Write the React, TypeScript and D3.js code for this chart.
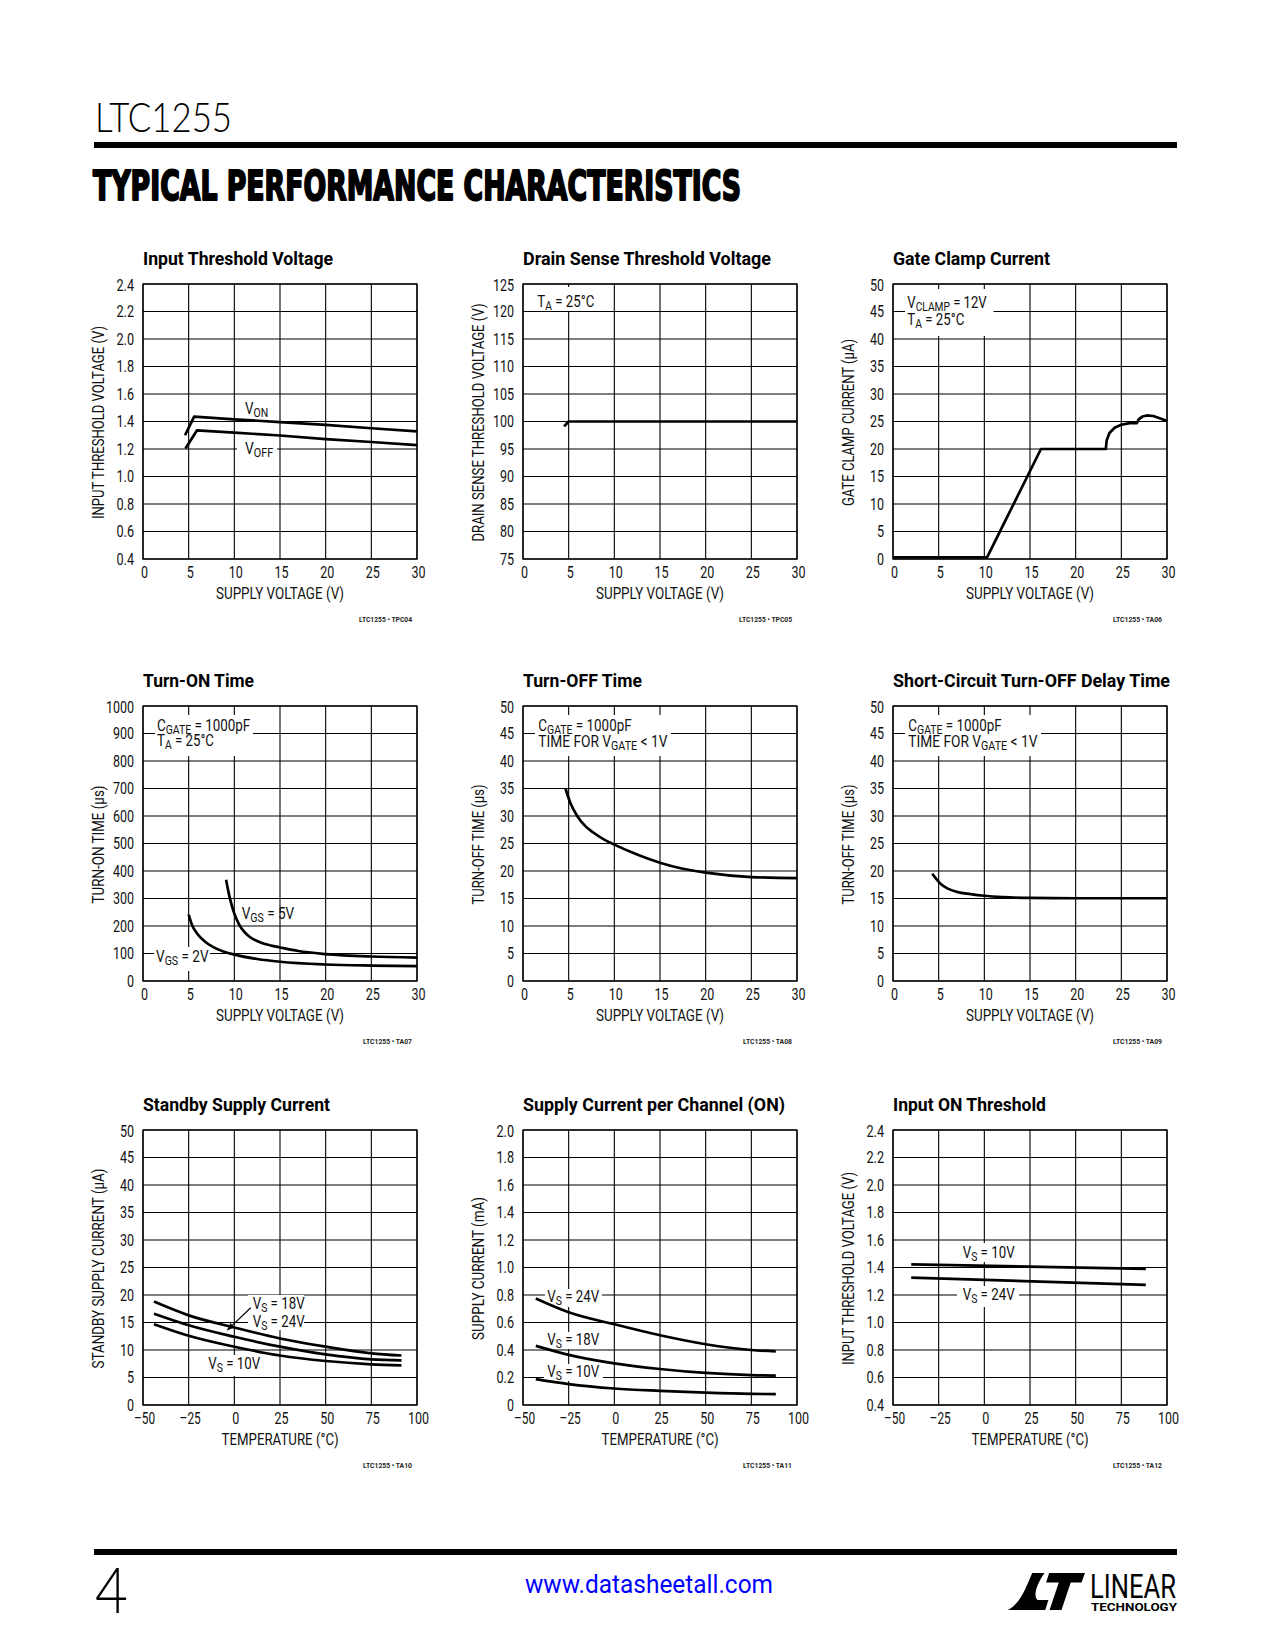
import React from 'react';
import * as d3 from 'd3';

const FONT = "Roboto, 'Liberation Sans', Arial, sans-serif";

// ---------- tick values & labels ----------
const supplyVoltageTicks = [0, 5, 10, 15, 20, 25, 30];
const supplyVoltageTickLabels = ['0', '5', '10', '15', '20', '25', '30'];
const temperatureTicks = [-50, -25, 0, 25, 50, 75, 100];
const temperatureTickLabels = ['–50', '–25', '0', '25', '50', '75', '100'];

const thresholdTicks = [0.4, 0.6, 0.8, 1.0, 1.2, 1.4, 1.6, 1.8, 2.0, 2.2, 2.4];
const thresholdTickLabels = ['0.4', '0.6', '0.8', '1.0', '1.2', '1.4', '1.6', '1.8', '2.0', '2.2', '2.4'];
const drainTicks = [75, 80, 85, 90, 95, 100, 105, 110, 115, 120, 125];
const drainTickLabels = ['75', '80', '85', '90', '95', '100', '105', '110', '115', '120', '125'];
const fiftyTicks = [0, 5, 10, 15, 20, 25, 30, 35, 40, 45, 50];
const fiftyTickLabels = ['0', '5', '10', '15', '20', '25', '30', '35', '40', '45', '50'];
const turnOnTicks = [0, 100, 200, 300, 400, 500, 600, 700, 800, 900, 1000];
const turnOnTickLabels = ['0', '100', '200', '300', '400', '500', '600', '700', '800', '900', '1000'];
const supplyCurrentTicks = [0, 0.2, 0.4, 0.6, 0.8, 1.0, 1.2, 1.4, 1.6, 1.8, 2.0];
const supplyCurrentTickLabels = ['0', '0.2', '0.4', '0.6', '0.8', '1.0', '1.2', '1.4', '1.6', '1.8', '2.0'];

// ---------- series data ----------
const inputThresholdVON = [[4.6, 1.30], [5.6, 1.435], [10, 1.416], [15, 1.396], [20, 1.375], [25, 1.351], [30, 1.328]];
const inputThresholdVOFF = [[4.65, 1.203], [5.9, 1.335], [10, 1.319], [15, 1.298], [20, 1.272], [25, 1.251], [30, 1.228]];

const drainSense = [[4.5, 99.1], [5, 100], [30, 100]];

const gateClamp = [
  [0, 0.3], [10.3, 0.3], [16.2, 20], [23.3, 20], [23.4, 21.6], [23.7, 22.9], [24.3, 23.9], [25, 24.4],
  [25.9, 24.7], [26.7, 24.7], [26.9, 25.4], [27.3, 25.9], [27.8, 26.1], [28.5, 26.0], [29.2, 25.6], [30, 25.1],
];

const turnOnVGS2 = [[5, 241], [5.35, 205], [5.9, 174], [6.8, 143], [7.7, 123], [8.8, 107], [10, 96], [12.5, 80], [15, 70], [20, 60], [25, 56], [30, 54]];
const turnOnVGS5 = [[9.1, 368], [9.35, 325], [9.65, 283], [10, 245], [10.5, 207], [11, 182], [11.7, 160], [12.8, 141], [14, 129], [15, 122], [17, 109], [20, 98], [25, 89], [30, 85]];

const turnOff = [[4.65, 35], [5.2, 32.3], [5.9, 30.1], [6.8, 28.2], [7.7, 27], [8.8, 25.8], [10, 24.8], [12.5, 23], [15, 21.5], [17.5, 20.4], [20, 19.7], [25, 18.9], [30, 18.7]];

const shortCircuit = [[4.3, 19.5], [5.2, 17.7], [6, 16.8], [7, 16.2], [8.5, 15.8], [10, 15.5], [12, 15.25], [15, 15.1], [20, 15.05], [30, 15.05]];

const standbyVS24 = [[-44, 18.8], [-25, 16.3], [0, 14.1], [25, 12.1], [50, 10.6], [75, 9.4], [91.5, 9.0]];
const standbyVS18 = [[-44, 16.6], [-25, 14.5], [0, 12.4], [25, 10.6], [50, 9.2], [75, 8.3], [91.5, 8.1]];
const standbyVS10 = [[-44, 14.7], [-25, 12.6], [0, 10.6], [25, 9.0], [50, 8.0], [75, 7.4], [91.5, 7.2]];

const channelVS24 = [[-43, 0.775], [-25, 0.675], [0, 0.587], [25, 0.507], [50, 0.442], [75, 0.400], [88.4, 0.390]];
const channelVS18 = [[-43, 0.43], [-25, 0.365], [0, 0.303], [25, 0.262], [50, 0.233], [75, 0.217], [88.4, 0.214]];
const channelVS10 = [[-43, 0.188], [-25, 0.152], [0, 0.12], [25, 0.103], [50, 0.09], [75, 0.081], [88.4, 0.079]];

const inputOnVS10 = [[-40, 1.423], [88.4, 1.39]];
const inputOnVS24 = [[-40, 1.326], [88.4, 1.274]];

// ---------- layout ----------
const W = 274;
const H = 275;
const COLS = [143, 523, 893];
const ROWS = [284, 706, 1130];

// condensed-Helvetica-like width estimate (em units)
const CW: Record<string, number> = {
  ' ': 0.278, '.': 0.278, '=': 0.584, '<': 0.584, '°': 0.4, '–': 0.556, '(': 0.333, ')': 0.333,
  A: 0.667, B: 0.667, C: 0.722, D: 0.722, E: 0.667, F: 0.611, G: 0.778, H: 0.722, I: 0.278, L: 0.556,
  M: 0.833, N: 0.722, O: 0.778, P: 0.667, R: 0.722, S: 0.667, T: 0.611, U: 0.722, V: 0.667, Y: 0.667,
};
const COND = 0.79;
function tw(s: string, size: number) {
  let w = 0;
  for (const ch of s) w += CW[ch] !== undefined ? CW[ch] : 0.556;
  return w * size * COND;
}

const supplyX = { domain: [0, 30], ticks: supplyVoltageTicks, labels: supplyVoltageTickLabels, title: 'SUPPLY VOLTAGE (V)', len: 128 };
const tempX = { domain: [-50, 100], ticks: temperatureTicks, labels: temperatureTickLabels, title: 'TEMPERATURE (°C)', len: 117 };

const charts = [
  {
    title: 'Input Threshold Voltage', titleLen: 190, code: 'LTC1255 • TPC04', codeLen: 53,
    xa: supplyX, yDomain: [0.4, 2.4], yTicks: thresholdTicks, yLabels: thresholdTickLabels,
    yTitle: 'INPUT THRESHOLD VOLTAGE (V)', yLen: 193,
    series: [inputThresholdVON, inputThresholdVOFF], curve: d3.curveLinear,
    bgs: [{ x: 94, y: 157, w: 40, h: 19 }],
    labels: [
      { x: 102, y: 130, parts: [['V'], ['ON', 1]] },
      { x: 102, y: 170, parts: [['V'], ['OFF', 1]] },
    ],
  },
  {
    title: 'Drain Sense Threshold Voltage', titleLen: 248, code: 'LTC1255 • TPC05', codeLen: 53,
    xa: supplyX, yDomain: [75, 125], yTicks: drainTicks, yLabels: drainTickLabels,
    yTitle: 'DRAIN SENSE THRESHOLD VOLTAGE (V)', yLen: 238,
    series: [drainSense], curve: d3.curveLinear,
    bgs: [{ x: 10, y: 3, w: 75, h: 24 }],
    labels: [{ x: 14.3, y: 22.7, parts: [['T'], ['A', 1], [' = 25°C']] }],
  },
  {
    title: 'Gate Clamp Current', titleLen: 157, code: 'LTC1255 • TA06', codeLen: 49,
    xa: supplyX, yDomain: [0, 50], yTicks: fiftyTicks, yLabels: fiftyTickLabels,
    yTitle: 'GATE CLAMP CURRENT (µA)', yLen: 167,
    series: [gateClamp], curve: d3.curveLinear,
    bgs: [{ x: 12, y: 5, w: 88.5, h: 47 }],
    labels: [
      { x: 14.3, y: 24.3, parts: [['V'], ['CLAMP', 1], [' = 12V']] },
      { x: 14.3, y: 40.7, parts: [['T'], ['A', 1], [' = 25°C']] },
    ],
  },
  {
    title: 'Turn-ON Time', titleLen: 111, code: 'LTC1255 • TA07', codeLen: 49,
    xa: supplyX, yDomain: [0, 1000], yTicks: turnOnTicks, yLabels: turnOnTickLabels,
    yTitle: 'TURN-ON TIME (µs)', yLen: 118,
    series: [turnOnVGS2, turnOnVGS5], curve: d3.curveMonotoneX,
    bgs: [{ x: 12, y: 9, w: 98, h: 41 }, { x: 11, y: 241, w: 56, h: 24 }],
    labels: [
      { x: 14, y: 25, parts: [['C'], ['GATE', 1], [' = 1000pF']] },
      { x: 14, y: 40, parts: [['T'], ['A', 1], [' = 25°C']] },
      { x: 98.7, y: 213, parts: [['V'], ['GS', 1], [' = 5V']] },
      { x: 13, y: 255.7, parts: [['V'], ['GS', 1], [' = 2V']] },
    ],
  },
  {
    title: 'Turn-OFF Time', titleLen: 119, code: 'LTC1255 • TA08', codeLen: 49,
    xa: supplyX, yDomain: [0, 50], yTicks: fiftyTicks, yLabels: fiftyTickLabels,
    yTitle: 'TURN-OFF TIME (µs)', yLen: 120,
    series: [turnOff], curve: d3.curveMonotoneX,
    bgs: [{ x: 12, y: 9, w: 136, h: 41 }],
    labels: [
      { x: 15.3, y: 25, parts: [['C'], ['GATE', 1], [' = 1000pF']] },
      { x: 15.3, y: 40.7, parts: [['TIME FOR V'], ['GATE', 1], [' < 1V']] },
    ],
  },
  {
    title: 'Short-Circuit Turn-OFF Delay Time', titleLen: 277, code: 'LTC1255 • TA09', codeLen: 49,
    xa: supplyX, yDomain: [0, 50], yTicks: fiftyTicks, yLabels: fiftyTickLabels,
    yTitle: 'TURN-OFF TIME (µs)', yLen: 120,
    series: [shortCircuit], curve: d3.curveMonotoneX,
    bgs: [{ x: 12, y: 9, w: 136, h: 41 }],
    labels: [
      { x: 15.3, y: 25, parts: [['C'], ['GATE', 1], [' = 1000pF']] },
      { x: 15.3, y: 40.7, parts: [['TIME FOR V'], ['GATE', 1], [' < 1V']] },
    ],
  },
  {
    title: 'Standby Supply Current', titleLen: 187, code: 'LTC1255 • TA10', codeLen: 49,
    xa: tempX, yDomain: [0, 50], yTicks: fiftyTicks, yLabels: fiftyTickLabels,
    yTitle: 'STANDBY SUPPLY CURRENT (µA)', yLen: 200,
    series: [standbyVS24, standbyVS18, standbyVS10], curve: d3.curveMonotoneX,
    bgs: [{ x: 105, y: 165, w: 56, h: 35 }, { x: 63, y: 225, w: 56, h: 21 }],
    arrow: { x1: 107.7, y1: 177.7, x2: 83.7, y2: 200.7 },
    labels: [
      { x: 109.7, y: 179, parts: [['V'], ['S', 1], [' = 18V']] },
      { x: 109.7, y: 197.3, parts: [['V'], ['S', 1], [' = 24V']] },
      { x: 65.3, y: 239, parts: [['V'], ['S', 1], [' = 10V']] },
    ],
  },
  {
    title: 'Supply Current per Channel (ON)', titleLen: 262, code: 'LTC1255 • TA11', codeLen: 49,
    xa: tempX, yDomain: [0, 2], yTicks: supplyCurrentTicks, yLabels: supplyCurrentTickLabels,
    yTitle: 'SUPPLY CURRENT (mA)', yLen: 143,
    series: [channelVS24, channelVS18, channelVS10], curve: d3.curveMonotoneX,
    bgs: [{ x: 22, y: 159, w: 57, h: 18 }, { x: 22, y: 202, w: 57, h: 17 }, { x: 21, y: 234, w: 59, h: 17 }],
    labels: [
      { x: 24.3, y: 171.7, parts: [['V'], ['S', 1], [' = 24V']] },
      { x: 24.3, y: 215, parts: [['V'], ['S', 1], [' = 18V']] },
      { x: 24.3, y: 246.7, parts: [['V'], ['S', 1], [' = 10V']] },
    ],
  },
  {
    title: 'Input ON Threshold', titleLen: 153, code: 'LTC1255 • TA12', codeLen: 49,
    xa: tempX, yDomain: [0.4, 2.4], yTicks: thresholdTicks, yLabels: thresholdTickLabels,
    yTitle: 'INPUT THRESHOLD VOLTAGE (V)', yLen: 193,
    series: [inputOnVS10, inputOnVS24], curve: d3.curveLinear,
    bgs: [{ x: 66, y: 113, w: 58, h: 19 }, { x: 64, y: 156, w: 62, h: 21 }],
    labels: [
      { x: 69.7, y: 128.3, parts: [['V'], ['S', 1], [' = 10V']] },
      { x: 69.7, y: 170, parts: [['V'], ['S', 1], [' = 24V']] },
    ],
  },
];

const MAIN = 16;
const SUB = 12.5;

function Rich({ x, y, parts }: any) {
  let lowered = false;
  let len = 0;
  const spans = parts.map((p: any, i: number) => {
    const sub = !!p[1];
    len += tw(p[0], sub ? SUB : MAIN);
    let dy: number | undefined;
    if (sub && !lowered) { dy = 2.8; lowered = true; }
    else if (!sub && lowered) { dy = -2.8; lowered = false; }
    return (
      <tspan key={i} dy={dy} fontSize={sub ? SUB : MAIN}>{p[0]}</tspan>
    );
  });
  return (
    <text x={x} y={y} fontFamily={FONT} fontSize={MAIN} fill="#111" style={{ whiteSpace: 'pre' }}
      textLength={len} lengthAdjust="spacingAndGlyphs">{spans}</text>
  );
}

function Chart({ cfg, left, top }: any) {
  const x = d3.scaleLinear().domain(cfg.xa.domain).range([0, W]);
  const y = d3.scaleLinear().domain(cfg.yDomain).range([H, 0]);
  const line = d3.line<any>().x((d) => x(d[0])).y((d) => y(d[1])).curve(cfg.curve);
  return (
    <g transform={`translate(${left},${top})`}>
      <text x={0} y={-19} fontFamily={FONT} fontWeight="bold" fontSize={19} fill="#000"
        textLength={cfg.titleLen} lengthAdjust="spacingAndGlyphs">{cfg.title}</text>
      {/* grid */}
      {cfg.xa.ticks.map((t: number) => (
        <line key={'gx' + t} x1={x(t)} x2={x(t)} y1={0} y2={H} stroke="#000" strokeWidth={1.1} />
      ))}
      {cfg.yTicks.map((t: number) => (
        <line key={'gy' + t} x1={0} x2={W} y1={y(t)} y2={y(t)} stroke="#000" strokeWidth={1.1} />
      ))}
      {/* label backgrounds */}
      {cfg.bgs.map((b: any, i: number) => (
        <rect key={'bg' + i} x={b.x} y={b.y} width={b.w} height={b.h} fill="#fff" />
      ))}
      <rect x={0} y={0} width={W} height={H} fill="none" stroke="#000" strokeWidth={1.3} />
      {/* series */}
      {cfg.series.map((s: any, i: number) => (
        <path key={'s' + i} d={line(s) || ''} fill="none" stroke="#000" strokeWidth={2.7}
          strokeLinejoin="round" strokeLinecap="butt" />
      ))}
      {cfg.arrow && (
        <g>
          <line x1={cfg.arrow.x1} y1={cfg.arrow.y1} x2={cfg.arrow.x2 + 4} y2={cfg.arrow.y2 - 3.8}
            stroke="#000" strokeWidth={1.2} />
          <path d={(() => {
            const a = cfg.arrow;
            const ang = Math.atan2(a.y2 - a.y1, a.x2 - a.x1);
            const L = 8, Wd = 3;
            const bx = a.x2 - L * Math.cos(ang), by = a.y2 - L * Math.sin(ang);
            const px = -Math.sin(ang) * Wd, py = Math.cos(ang) * Wd;
            return `M${a.x2},${a.y2}L${bx + px},${by + py}L${bx - px},${by - py}Z`;
          })()} fill="#000" />
        </g>
      )}
      {cfg.labels.map((l: any, i: number) => (
        <Rich key={'l' + i} x={l.x} y={l.y} parts={l.parts} />
      ))}
      {/* y tick labels */}
      {cfg.yTicks.map((t: number, i: number) => (
        <text key={'yl' + t} x={-9} y={y(t) + 5.6 + (i === cfg.yTicks.length - 1 ? 1.5 : 0)} textAnchor="end"
          fontFamily={FONT} fontSize={MAIN} fill="#111" textLength={tw(cfg.yLabels[i], MAIN)}
          lengthAdjust="spacingAndGlyphs">{cfg.yLabels[i]}</text>
      ))}
      {/* x tick labels */}
      {cfg.xa.ticks.map((t: number, i: number) => (
        <text key={'xl' + t} x={x(t) + 1.5} y={H + 19} textAnchor="middle"
          fontFamily={FONT} fontSize={MAIN} fill="#111" textLength={tw(cfg.xa.labels[i], MAIN)}
          lengthAdjust="spacingAndGlyphs">{cfg.xa.labels[i]}</text>
      ))}
      <text x={W / 2} y={H + 40} textAnchor="middle" fontFamily={FONT} fontSize={MAIN} fill="#111"
        textLength={cfg.xa.len} lengthAdjust="spacingAndGlyphs">{cfg.xa.title}</text>
      <text transform={`translate(-39,${H / 2 + 1}) rotate(-90)`} textAnchor="middle" fontFamily={FONT}
        fontSize={MAIN} fill="#111" textLength={cfg.yLen} lengthAdjust="spacingAndGlyphs">{cfg.yTitle}</text>
      <text x={W - 5} y={H + 63} textAnchor="end" fontFamily={FONT} fontWeight="bold" fontSize={7}
        fill="#222" textLength={cfg.codeLen} lengthAdjust="spacingAndGlyphs">{cfg.code}</text>
    </g>
  );
}

export default function App() {
  return (
    <svg width={1275} height={1650} viewBox="0 0 1275 1650"
      style={{ position: 'absolute', left: 0, top: 0, background: '#fff' }}>
      <rect x={0} y={0} width={1275} height={1650} fill="#fff" />
      {/* header */}
      <text x={95} y={132} fontFamily="Lato, 'Open Sans', 'DejaVu Sans', sans-serif" fontWeight={300}
        fontSize={42} fill="#000" textLength={137} lengthAdjust="spacingAndGlyphs">LTC1255</text>
      <rect x={94} y={142} width={1083} height={6} fill="#000" />
      <text x={93} y={200} fontFamily="'DejaVu Sans', sans-serif" fontWeight="bold" fontSize={40}
        fill="#000" stroke="#000" strokeWidth={2.2} strokeLinejoin="round" textLength={648}
        lengthAdjust="spacingAndGlyphs">TYPICAL PERFORMANCE CHARACTERISTICS</text>

      {charts.map((c, i) => (
        <Chart key={i} cfg={c} left={COLS[i % 3]} top={ROWS[Math.floor(i / 3)]} />
      ))}

      {/* footer */}
      <rect x={94} y={1549} width={1083} height={6} fill="#000" />
      <text x={95} y={1613} fontFamily="Lato, 'Open Sans', 'DejaVu Sans', sans-serif" fontWeight={300}
        fontSize={64} fill="#000" textLength={33} lengthAdjust="spacingAndGlyphs">4</text>
      <text x={649} y={1593} textAnchor="middle" fontFamily={FONT} fontSize={25} fill="#0000ff"
        textLength={248} lengthAdjust="spacingAndGlyphs">www.datasheetall.com</text>
      <g transform="translate(986.8,1556.3) scale(0.385,0.398)">
        <path d="M118,42 L150,42 C128,72 120,100 132,110 L160,110 L152,135 L55,135 C88,118 102,78 118,42 Z" fill="#000" />
        <path d="M162,42 L255,42 L246,66 L218,66 L194,135 L163,135 L187,66 L154,66 Z" fill="#000" />
      </g>
      <text x={1090} y={1598} fontFamily={FONT} fontSize={33} fill="#000" textLength={86}
        lengthAdjust="spacingAndGlyphs">LINEAR</text>
      <text x={1091} y={1611} fontFamily={FONT} fontWeight="bold" fontSize={10} fill="#000" textLength={86}
        lengthAdjust="spacingAndGlyphs">TECHNOLOGY</text>
    </svg>
  );
}
